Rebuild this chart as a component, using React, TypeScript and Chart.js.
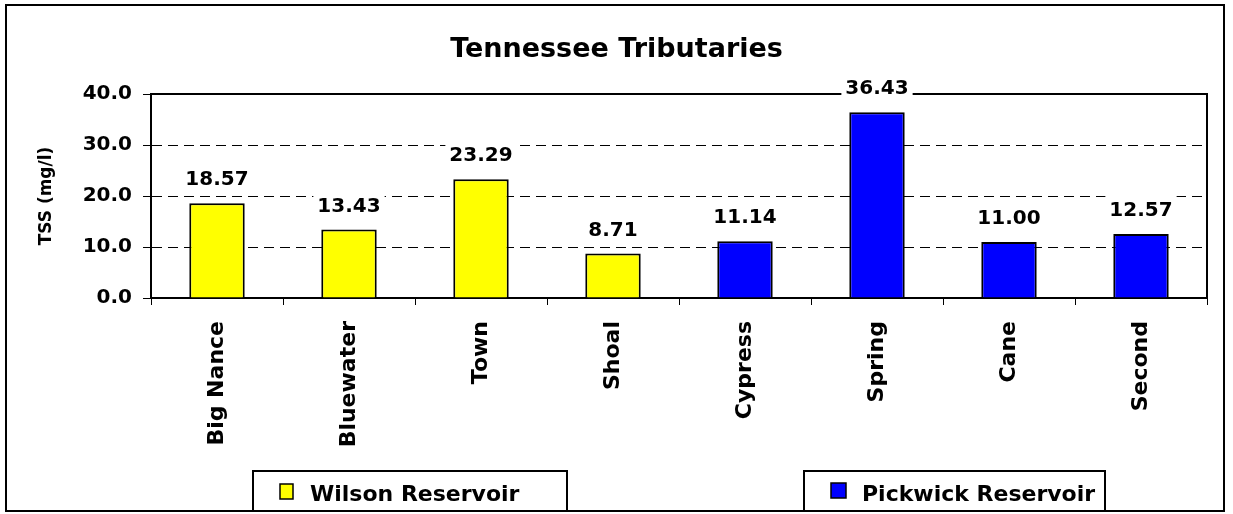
import React, { useEffect, useRef } from "react";
import { Chart, registerables } from "chart.js";

Chart.register(...registerables);

const categories = ["Big Nance", "Bluewater", "Town", "Shoal", "Cypress", "Spring", "Cane", "Second"];
const wilsonValues = [18.57, 13.43, 23.29, 8.71, null, null, null, null];
const pickwickValues = [null, null, null, null, 11.14, 36.43, 11.0, 12.57];
const seriesNames = ["Wilson Reservoir", "Pickwick Reservoir"];
const seriesColors = ["#FFFF00", "#0000FF"];
const chartTitle = "Tennessee Tributaries";
const yAxisTitle = "TSS (mg/l)";
const yMin = 0;
const yMax = 40;
const yStep = 10;

const FONT = "'DejaVu Sans', 'Liberation Sans', Arial, sans-serif";

const decorPlugin = {
  id: "decor",
  afterDraw(chart: any) {
    const ctx = chart.ctx as CanvasRenderingContext2D;
    const { left, right, top, bottom } = chart.chartArea;
    ctx.save();
    // plot area frame (top and right)
    ctx.strokeStyle = "#000";
    ctx.lineWidth = 2;
    ctx.beginPath();
    ctx.moveTo(left, top);
    ctx.lineTo(right, top);
    ctx.lineTo(right, bottom);
    ctx.stroke();

    // title
    ctx.fillStyle = "#000";
    ctx.font = `bold 27px ${FONT}`;
    ctx.textAlign = "center";
    ctx.textBaseline = "alphabetic";
    ctx.fillText(chartTitle, chart.width / 2, 57);

    // value labels
    ctx.font = `bold 20px ${FONT}`;
    chart.data.datasets.forEach((ds: any, di: number) => {
      const meta = chart.getDatasetMeta(di);
      meta.data.forEach((el: any, i: number) => {
        const v = ds.data[i];
        if (v == null) return;
        const text = Number(v).toFixed(2);
        const w = ctx.measureText(text).width;
        const baseY = el.y - 18;
        ctx.fillStyle = "#fff";
        ctx.fillRect(el.x - w / 2 - 4, baseY - 20, w + 8, 24);
        ctx.fillStyle = "#000";
        ctx.fillText(text, el.x, baseY);
      });
    });

    // outer frame
    ctx.lineWidth = 2;
    ctx.strokeStyle = "#000";
    ctx.strokeRect(6, 5, 1218, 506);

    // legend boxes
    const boxes = [
      { x: 253, y: 471, w: 314, h: 40, sx: 280, sy: 484, sw: 13, sh: 15, tx: 310 },
      { x: 804, y: 471, w: 301, h: 40, sx: 831, sy: 483, sw: 15, sh: 15, tx: 862 },
    ];
    ctx.font = `bold 22px ${FONT}`;
    ctx.textAlign = "left";
    boxes.forEach((b, i) => {
      ctx.fillStyle = "#fff";
      ctx.fillRect(b.x, b.y, b.w, b.h);
      ctx.lineWidth = 2;
      ctx.strokeStyle = "#000";
      ctx.strokeRect(b.x, b.y, b.w, b.h);
      ctx.fillStyle = chart.data.datasets[i].backgroundColor;
      ctx.fillRect(b.sx, b.sy, b.sw, b.sh);
      ctx.lineWidth = 1.5;
      ctx.strokeRect(b.sx, b.sy, b.sw, b.sh);
      ctx.fillStyle = "#000";
      ctx.fillText(chart.data.datasets[i].label, b.tx, 501);
    });
    ctx.restore();
  },
};

export default function App() {
  const ref = useRef<HTMLCanvasElement | null>(null);

  useEffect(() => {
    if (!ref.current) return;
    const chart = new Chart(ref.current, {
      type: "bar",
      data: {
        labels: categories,
        datasets: [
          {
            label: seriesNames[0],
            data: wilsonValues,
            backgroundColor: seriesColors[0],
            borderColor: "#000",
            borderWidth: 2,
          },
          {
            label: seriesNames[1],
            data: pickwickValues,
            backgroundColor: seriesColors[1],
            borderColor: "#000",
            borderWidth: 2,
          },
        ] as any,
      },
      options: {
        animation: false,
        responsive: false,
        devicePixelRatio: 1,
        layout: { padding: { top: 94, right: 26, left: 0, bottom: 0 } },
        datasets: {
          bar: { grouped: false, barPercentage: 0.42, categoryPercentage: 1 },
        } as any,
        plugins: {
          legend: { display: false },
          title: { display: false },
          tooltip: { enabled: false },
        },
        scales: {
          x: {
            offset: true,
            grid: {
              display: true,
              drawOnChartArea: false,
              drawTicks: true,
              tickLength: 7,
              tickColor: "#000",
              tickWidth: 1,
              offset: true,
            },
            border: { display: true, color: "#000", width: 2 },
            ticks: {
              color: "#000",
              font: { family: FONT, size: 22, weight: "bold" },
              minRotation: 90,
              maxRotation: 90,
              autoSkip: false,
              padding: 16,
            },
            afterFit(scale: any) {
              scale.height = 216;
            },
          },
          y: {
            min: yMin,
            max: yMax,
            grid: {
              color: "#000",
              lineWidth: 1,
              drawTicks: true,
              tickLength: 8,
              tickColor: "#000",
              tickWidth: 1,
              tickBorderDash: [],
            },
            border: { display: true, color: "#000", width: 2, dash: [10, 6] },
            ticks: {
              stepSize: yStep,
              color: "#000",
              font: { family: FONT, size: 20, weight: "bold" },
              padding: 11,
              callback: (v: any) => Number(v).toFixed(1),
            },
            title: {
              display: true,
              text: yAxisTitle,
              color: "#000",
              font: { family: FONT, size: 17, weight: "bold" },
              padding: { top: 36, bottom: 0 },
            },
            afterFit(scale: any) {
              scale.width = 151;
            },
          },
        },
      } as any,
      plugins: [decorPlugin],
    });
    return () => chart.destroy();
  }, []);

  return (
    <div style={{ position: "fixed", left: 0, top: 0, width: 1233, height: 514, background: "#fff" }}>
      <canvas ref={ref} width={1233} height={514} style={{ display: "block" }} />
    </div>
  );
}
